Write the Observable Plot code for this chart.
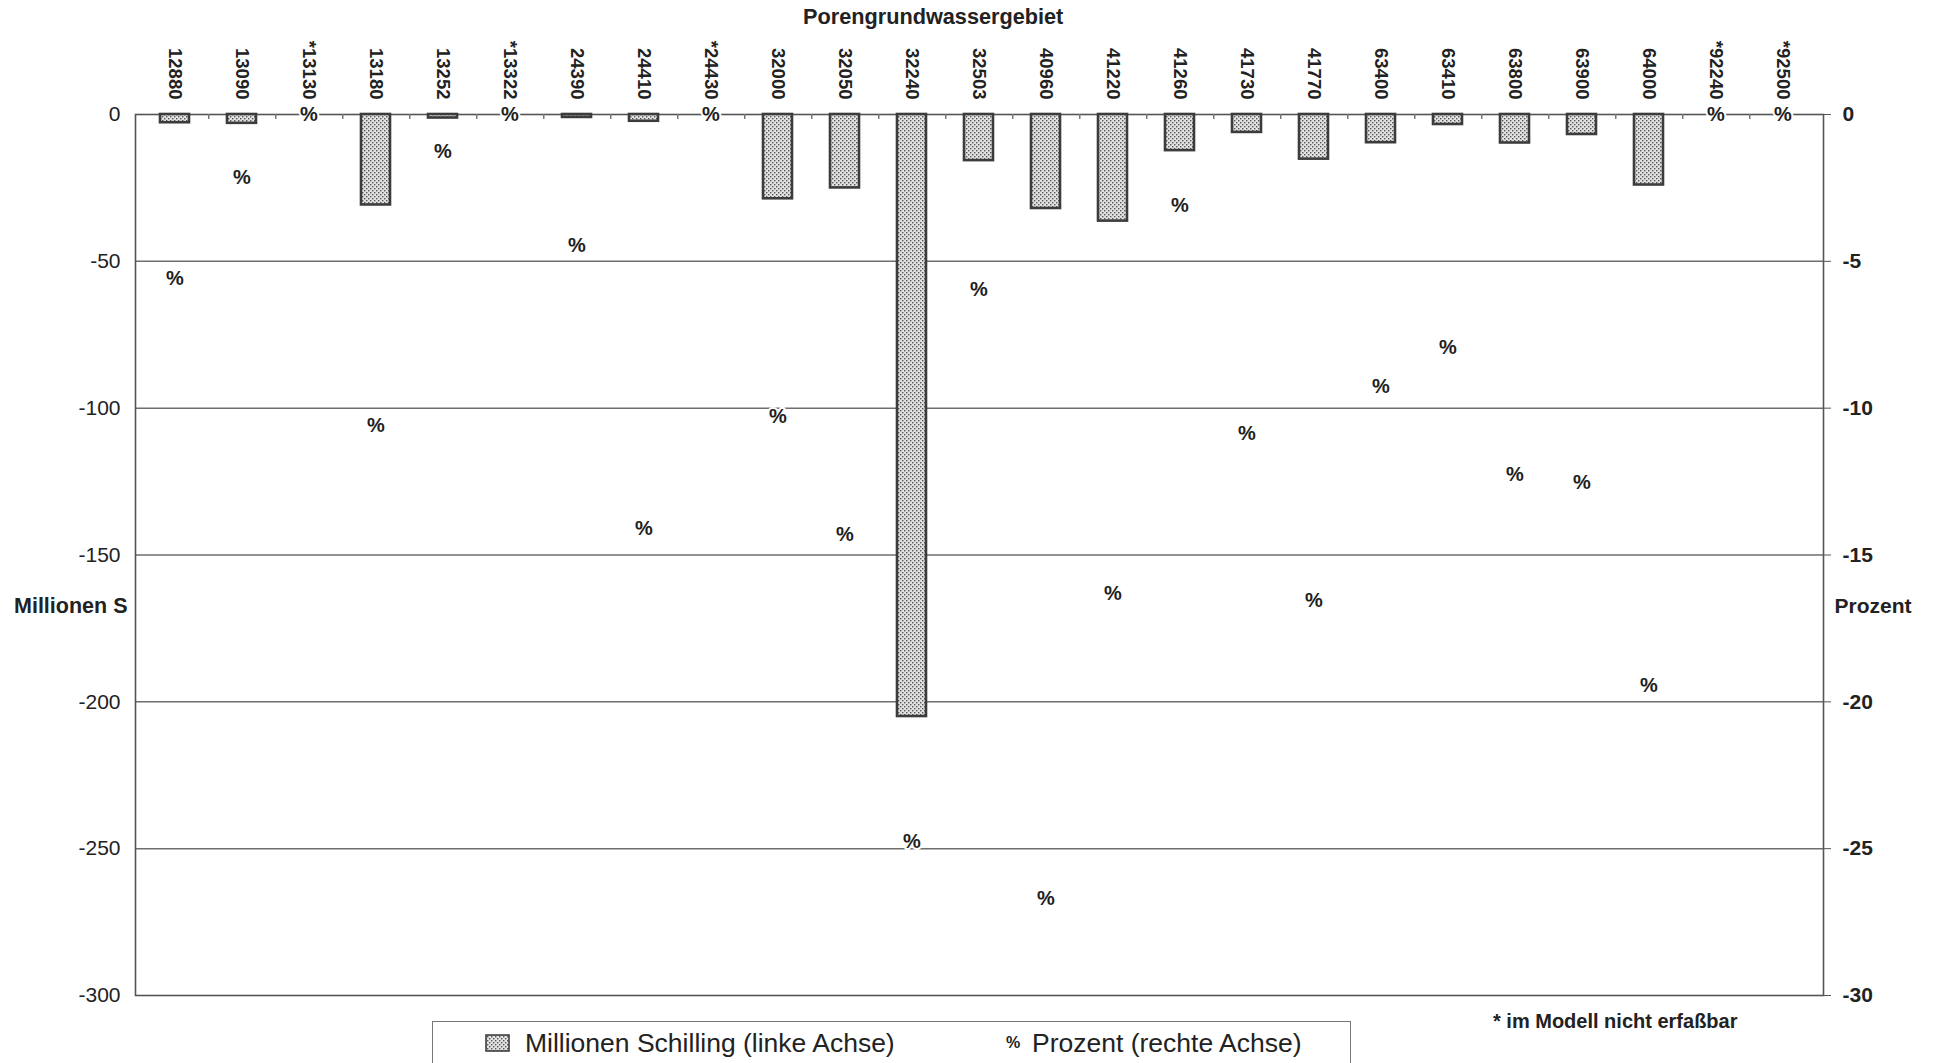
<!DOCTYPE html>
<html>
<head>
<meta charset="utf-8">
<script src="https://cdn.jsdelivr.net/npm/d3@7"></script>
<script src="https://cdn.jsdelivr.net/npm/@observablehq/plot@0.6"></script>
<style>
  html, body { margin: 0; padding: 0; background: #fff; overflow: hidden; }
  body { width: 1938px; height: 1063px; font-family: "Liberation Sans", Arial, sans-serif; color: #222; }
  #title { height: 34px; line-height: 34px; padding-left: 803px; font-size: 21.7px; font-weight: bold; }
  #chart svg { display: block; }
  #below { position: relative; height: 53px; }
  #legend { position: absolute; left: 432px; top: 11px; width: 919px; height: 44px; border: 1.5px solid #777; box-sizing: border-box; }
  .li { position: absolute; top: 0; height: 42px; line-height: 42px; font-family: "Liberation Sans", Arial, sans-serif; font-size: 26.5px; color: #222; white-space: nowrap; }
  .pct { font-size: 16px; font-weight: bold; }
  #foot { position: absolute; left: 1493px; top: 0px; font-size: 20px; font-weight: bold; color: #222; white-space: nowrap; }
</style>
</head>
<body>
<svg width="0" height="0" style="position:absolute">
  <defs>
    <pattern id="dots" width="4" height="4" patternUnits="userSpaceOnUse">
      <rect width="4" height="4" fill="#e2e2e2"></rect>
      <rect x="0" y="0" width="1.4" height="1.4" fill="#555"></rect>
      <rect x="2" y="2" width="1.4" height="1.4" fill="#555"></rect>
    </pattern>
  </defs>
</svg>
<div id="title">Porengrundwassergebiet</div>
<div id="chart"></div>
<div id="below">
  <div id="legend">
    <div class="li" style="left:52px;"><svg width="26" height="42" style="vertical-align:top"><rect x="1" y="13" width="23" height="16" fill="url(#dots)" stroke="#333" stroke-width="1.5"></rect></svg></div>
    <div class="li" style="left:92px;">Millionen Schilling (linke Achse)</div>
    <div class="li pct" style="left:573px;">%</div>
    <div class="li" style="left:599px;">Prozent (rechte Achse)</div>
  </div>
  <div id="foot">* im Modell nicht erfaßbar</div>
</div>
<script>
// Porengrundwassergebiet codes (* = im Modell nicht erfaßbar)
const categories = ["12880", "13090", "*13130", "13180", "13252", "*13322", "24390", "24410", "*24430",
  "32000", "32050", "32240", "32503", "40960", "41220", "41260", "41730", "41770",
  "63400", "63410", "63800", "63900", "64000", "*92240", "*92500"];
// Millionen Schilling (linke Achse); null = nicht erfaßbar
const millionen = [-2.8, -3.0, null, -30.8, -1.2, null, -1.0, -2.3, null,
  -28.7, -25.0, -205, -15.7, -32.0, -36.3, -12.3, -6.1, -15.2,
  -9.6, -3.4, -9.7, -6.8, -24.0, null, null];
// Prozent (rechte Achse)
const prozent = [-5.6, -2.15, 0, -10.6, -1.25, 0, -4.45, -14.1, 0,
  -10.3, -14.3, -24.75, -5.95, -26.7, -16.3, -3.1, -10.85, -16.55,
  -9.25, -7.95, -12.25, -12.55, -19.45, 0, 0];
const leftTicks = [0, -50, -100, -150, -200, -250, -300];
const gridValues = [-50, -100, -150, -200, -250];
const pctFactor = 10; // 30 % on the right axis = 300 Mio. S on the left axis

const data = categories.map((c, i) => ({cat: c, m: millionen[i], p: prozent[i]}));

const W = 1938, H = 976, mL = 135, mR = 115, mT = 80, mB = 15;
const step = (W - mL - mR) / categories.length;
const font = "Liberation Sans, Arial, sans-serif";

const chart = Plot.plot({
  width: W, height: H,
  marginTop: mT, marginBottom: mB, marginLeft: mL, marginRight: mR,
  style: {fontFamily: font, color: "#222", background: "white", overflow: "visible"},
  x: {domain: categories, paddingInner: 0.56, paddingOuter: 0.28},
  y: {domain: [-300, 0]},
  marks: [
    Plot.ruleY(gridValues, {stroke: "#6e6e6e", strokeWidth: 1.5}),
    Plot.frame({stroke: "#555", strokeWidth: 1.6}),
    Plot.ruleX(categories.slice(0, -1), {x: d => d, y1: 0, y2: -1.7, dx: step / 2, stroke: "#777", strokeWidth: 1.5}),
    Plot.barY(data.filter(d => d.m != null), {x: "cat", y: "m", fill: "url(#dots)", stroke: "#3c3c3c", strokeWidth: 2.6}),
    Plot.text(data, {x: "cat", y: d => d.p * pctFactor, text: () => "%", fontSize: 20, fontWeight: "bold", fill: "#1e1e1e", stroke: "white", strokeWidth: 4, paintOrder: "stroke"}),
    Plot.axisX({anchor: "top", tickRotate: 90, tickSize: 0, tickPadding: 15, textAnchor: "end", fontSize: 18.5, fontWeight: "bold", label: null, fill: "#222"}),
    Plot.axisY({anchor: "left", ticks: leftTicks, tickSize: 0, tickPadding: 15, fontSize: 21, label: null, tickFormat: d => String(d)}),
    Plot.axisY({anchor: "right", ticks: leftTicks, tickSize: 7, tickPadding: 12, fontSize: 21, fontWeight: "bold", label: null, tickFormat: d => String(d / pctFactor), stroke: "#555"}),
    Plot.text(["Millionen S"], {frameAnchor: "left", dx: -8, dy: 51, textAnchor: "end", fontSize: 21.5, fontWeight: "bold", fill: "#222"}),
    Plot.text(["Prozent"], {frameAnchor: "right", dx: 11, dy: 51, textAnchor: "start", fontSize: 21, fontWeight: "bold", fill: "#222"})
  ]
});
document.getElementById("chart").appendChild(chart);
</script>
</body>
</html>
